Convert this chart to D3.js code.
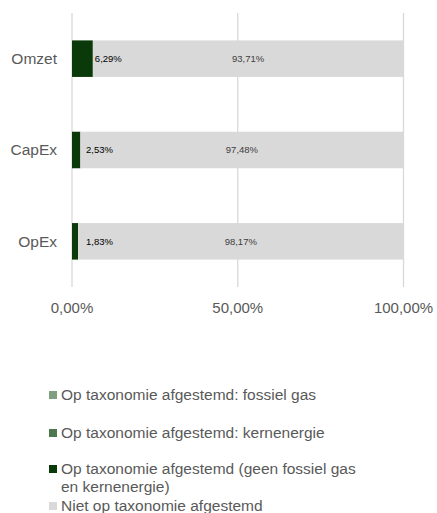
<!DOCTYPE html>
<html>
<head>
<meta charset="utf-8">
<script src="https://cdn.jsdelivr.net/npm/d3@7"></script>
<style>
  html, body { margin: 0; padding: 0; background: #fff; }
  svg { display: block; font-family: "Liberation Sans", Arial, sans-serif; }
</style>
</head>
<body>
<svg id="chart"></svg>
<script>
// categories top to bottom
const categories = ['Omzet', 'CapEx', 'OpEx']
const fossilGas = [0, 0, 0]
const nuclear = [0, 0, 0]
const aligned = [6.29, 2.53, 1.83]
const notAligned = [93.71, 97.48, 98.17]
const xTicks = [0, 50, 100]

const colors = ['#809f80', '#4d774d', '#0a3a0a', '#d9d9d9']

const svgWidth = 437
const svgHeight = 513
const margin = { top: 13, right: 33.5, bottom: 226, left: 72 }
const width = svgWidth - margin.left - margin.right
const height = svgHeight - margin.top - margin.bottom

const fmt = v => v.toFixed(2).replace('.', ',') + '%'

const svg = d3.select('#chart')
  .attr('width', svgWidth)
  .attr('height', svgHeight)

const g = svg.append('g')
  .attr('transform', `translate(${margin.left}, ${margin.top})`)

const x = d3.scaleLinear().domain([0, 100]).range([0, width])
const y = d3.scaleBand().domain(categories).range([0, height]).paddingInner(0.6).paddingOuter(0.3)

// gridlines
g.append('g')
  .selectAll('line')
  .data(xTicks)
  .join('line')
  .attr('x1', d => x(d))
  .attr('x2', d => x(d))
  .attr('y1', 0)
  .attr('y2', height)
  .attr('stroke', '#d9d9d9')
  .attr('stroke-width', 1.3)

// stacked bars
const rows = categories.map((c, i) => ({
  cat: c,
  values: [fossilGas[i], nuclear[i], aligned[i], notAligned[i]]
}))

const stack = d3.stack().keys([0, 1, 2, 3]).value((d, k) => d.values[k])
const layers = stack(rows)

layers.forEach((layer, k) => {
  g.append('g')
    .attr('fill', colors[k])
    .selectAll('rect')
    .data(layer.filter(d => d[1] - d[0] > 0))
    .join('rect')
    .attr('x', d => x(d[0]))
    .attr('width', d => x(d[1]) - x(d[0]))
    .attr('y', d => y(d.data.cat))
    .attr('height', y.bandwidth())
})

// labels: aligned (dark) segment
g.append('g')
  .selectAll('text')
  .data(layers[2])
  .join('text')
  .attr('x', d => Math.max(x(d[1]) + 2, x(0) + 14))
  .attr('y', d => y(d.data.cat) + y.bandwidth() / 2)
  .attr('dy', '0.35em')
  .attr('font-size', 9.5)
  .attr('fill', '#000')
  .text(d => fmt(d[1] - d[0]))

// labels: not aligned (grey) segment
g.append('g')
  .selectAll('text')
  .data(layers[3])
  .join('text')
  .attr('x', d => (x(d[0]) + x(d[1])) / 2)
  .attr('y', d => y(d.data.cat) + y.bandwidth() / 2)
  .attr('dy', '0.35em')
  .attr('text-anchor', 'middle')
  .attr('font-size', 9.5)
  .attr('fill', '#404040')
  .text(d => fmt(d[1] - d[0]))

// y axis labels
g.append('g')
  .selectAll('text')
  .data(categories)
  .join('text')
  .attr('x', -15)
  .attr('y', d => y(d) + y.bandwidth() / 2)
  .attr('dy', '0.35em')
  .attr('text-anchor', 'end')
  .attr('font-size', 15.5)
  .attr('fill', '#595959')
  .text(d => d)

// x axis labels
g.append('g')
  .selectAll('text')
  .data(xTicks)
  .join('text')
  .attr('x', d => x(d))
  .attr('y', height + 21)
  .attr('dy', '0.35em')
  .attr('text-anchor', 'middle')
  .attr('font-size', 15)
  .attr('fill', '#595959')
  .text(d => fmt(d))

// legend
const legendLines = [
  ['Op taxonomie afgestemd: fossiel gas'],
  ['Op taxonomie afgestemd: kernenergie'],
  ['Op taxonomie afgestemd (geen fossiel gas', 'en kernenergie)'],
  ['Niet op taxonomie afgestemd']
]
const legendY = [395, 433, 469, 506]

const legend = svg.append('g')
legendLines.forEach((lines, k) => {
  const item = legend.append('g').attr('transform', `translate(49, ${legendY[k]})`)
  item.append('rect')
    .attr('x', 0)
    .attr('y', -4)
    .attr('width', 8)
    .attr('height', 8)
    .attr('fill', colors[k])
  const t = item.append('text')
    .attr('y', 0)
    .attr('font-size', 15.5)
    .attr('fill', '#595959')
  lines.forEach((l, i) => {
    t.append('tspan')
      .attr('x', 12)
      .attr('dy', i === 0 ? '0.35em' : 18)
      .text(l)
  })
})
</script>
</body>
</html>
